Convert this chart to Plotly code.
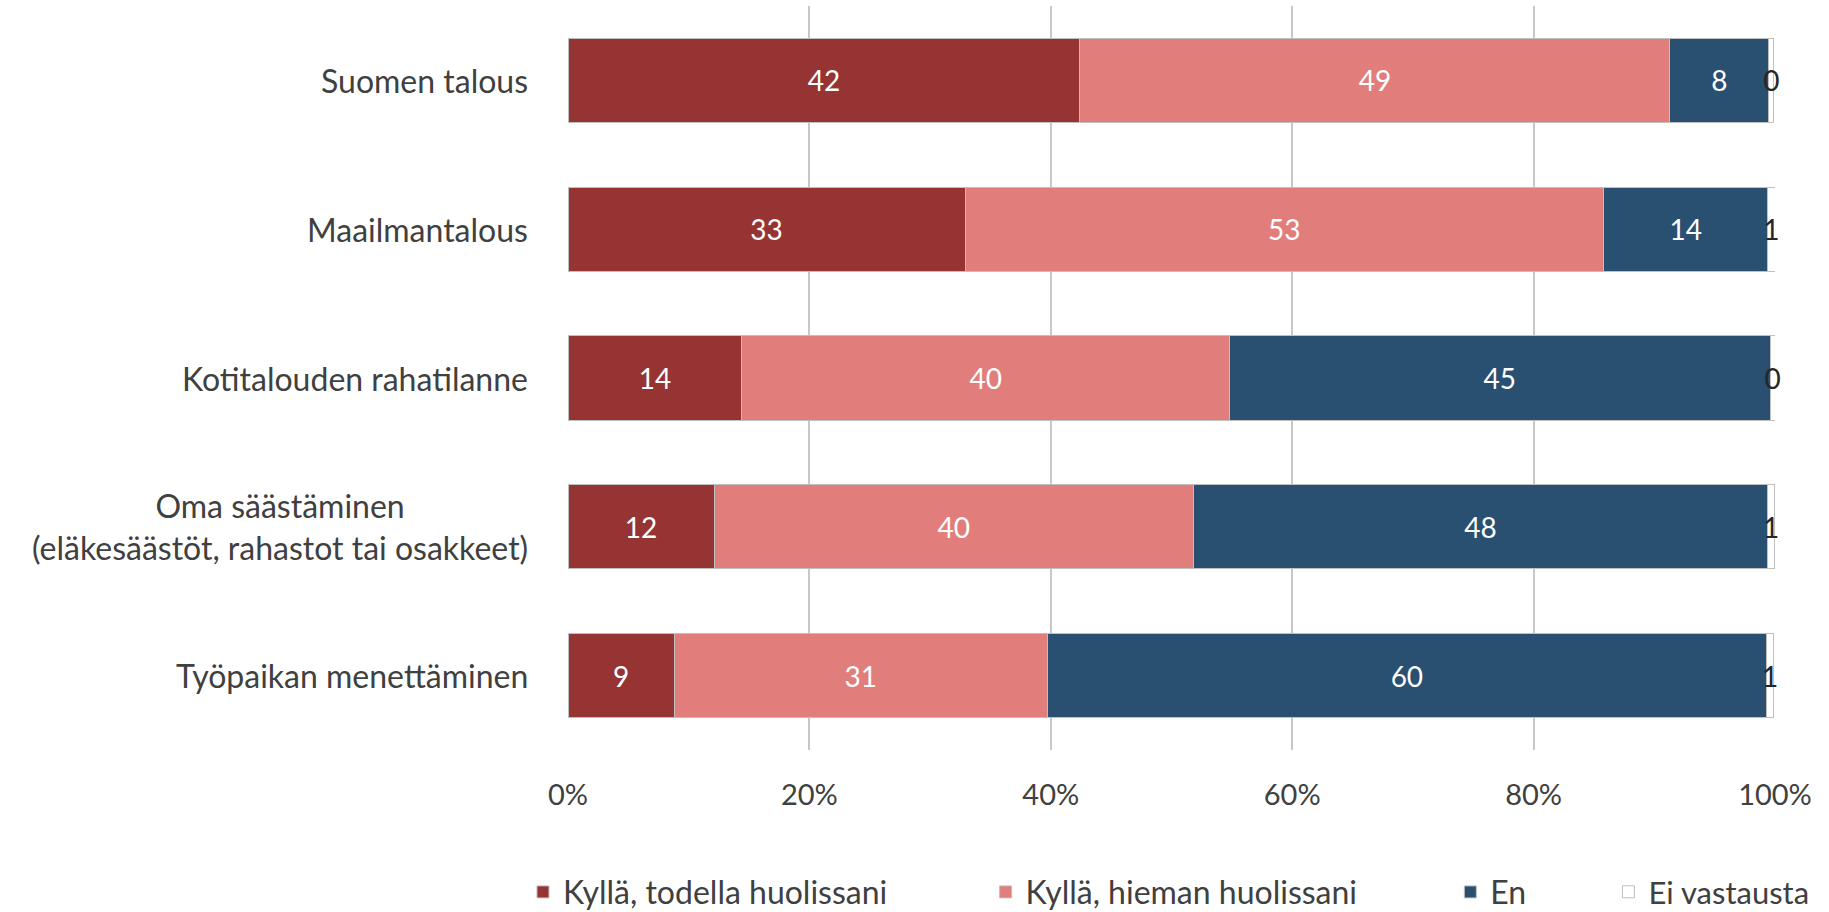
import plotly.graph_objects as go

categories = ["Suomen talous", "Maailmantalous", "Kotitalouden rahatilanne",
              "Oma säästäminen<br>(eläkesäästöt, rahastot tai osakkeet)",
              "Työpaikan menettäminen"]
series_names = ["Kyllä, todella huolissani", "Kyllä, hieman huolissani", "En", "Ei vastausta"]
todella = [42.4, 32.9, 14.4, 12.1, 8.8]
hieman = [48.9, 52.9, 40.4, 39.7, 30.9]
en = [8.2, 13.6, 44.8, 47.6, 59.6]
ei_vastausta = [0.4, 0.6, 0.4, 0.55, 0.6]
x_ticks = [0, 20, 40, 60, 80, 100]
x_tick_labels = ["0%", "20%", "40%", "60%", "80%", "100%"]

colors = ["#963434", "#E17E7B", "#294F71", "#FFFFFF"]
text_colors = ["white", "white", "white", "#262626"]
legend_x = [-0.0373, 0.346, 0.731, 0.862]
FONT = "Lato"

fig = go.Figure()
data = [todella, hieman, en, ei_vastausta]
legend_ids = ["legend", "legend2", "legend3", "legend4"]
for i, (name, vals) in enumerate(zip(series_names, data)):
    fig.add_trace(go.Bar(
        y=list(range(len(categories))), x=vals, name=name, orientation="h",
        marker=dict(color=colors[i], line=dict(color="#BFBFBF", width=1)),
        texttemplate="%{x:.0f}", textposition="inside", insidetextanchor="middle",
        constraintext="none", cliponaxis=False,
        textfont=dict(family=FONT, size=28, color=text_colors[i]),
        legend=legend_ids[i], hoverinfo="skip",
    ))

for j, cat in enumerate(categories):
    fig.add_annotation(x=0, xref="paper", y=j, yref="y", text=cat, showarrow=False,
                       xanchor="right", yanchor="middle", xshift=-38, align="center",
                       font=dict(family=FONT, size=32, color="#404040"))

layout_legends = {}
for i, lid in enumerate(legend_ids):
    layout_legends[lid] = dict(x=legend_x[i], xanchor="left", y=-0.191, yanchor="middle",
                               orientation="h", bgcolor="rgba(0,0,0,0)",
                               font=dict(family=FONT, size=32 if i < 3 else 31, color="#404040"))

fig.update_layout(
    width=1829, height=912,
    margin=dict(l=568, r=54, t=6, b=162, autoexpand=False),
    barmode="stack", bargap=0.435,
    plot_bgcolor="white", paper_bgcolor="white",
    font=dict(family=FONT, size=30, color="#404040"),
    showlegend=True,
    **layout_legends,
)
fig.update_xaxes(range=[0, 100], tickvals=x_ticks, ticktext=x_tick_labels,
                 showgrid=True, gridcolor="#C8C8C8", gridwidth=2, zeroline=False,
                 showline=False, ticklabelstandoff=25,
                 tickfont=dict(family=FONT, size=29, color="#404040"))
fig.update_yaxes(range=[4.5, -0.5], showticklabels=False, showgrid=False,
                 zeroline=False, showline=False)

fig.write_html("out.html", config={"displayModeBar": False},
               post_script="document.body.style.margin='0';document.body.style.overflow='hidden';")
